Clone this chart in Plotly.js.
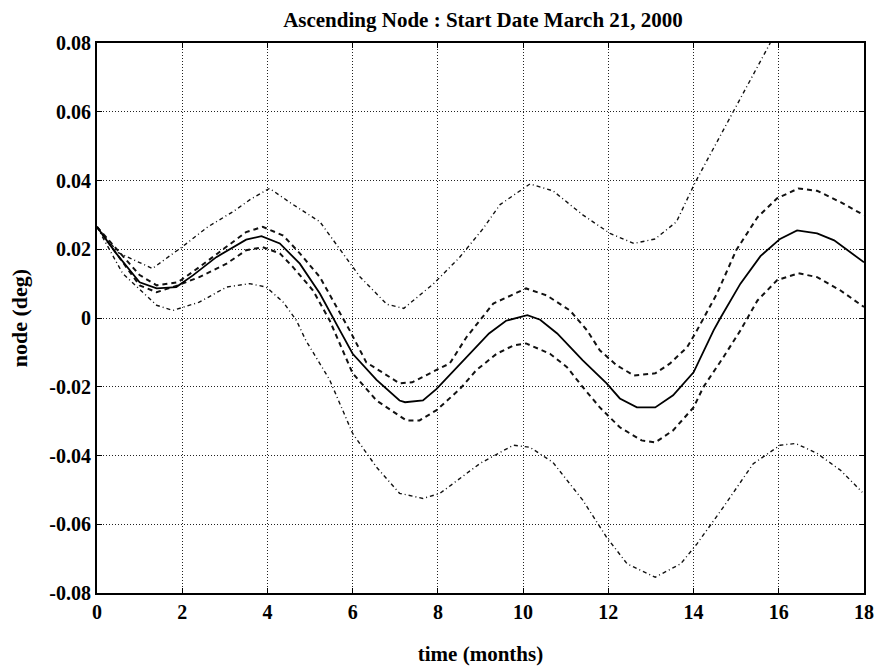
<!DOCTYPE html>
<html>
<head>
<meta charset="utf-8">
<script src="https://cdn.plot.ly/plotly-3.0.1.min.js"></script>
<style>html,body{margin:0;padding:0;background:#fff;}#chart{width:879px;height:672px;}</style>
</head>
<body>
<div id="chart"></div>
<script>
// Mean ascending node (solid)
const meanT = [0, 0.45, 1.0, 1.4, 1.86, 2.25, 2.8, 3.2, 3.5, 3.86, 4.29, 4.76, 5.23, 5.7, 6.0, 6.56, 7.1, 7.23, 7.65, 7.97, 8.67, 9.2, 9.6, 10.1, 10.4, 10.8, 11.4, 11.96, 12.27, 12.67, 13.1, 13.52, 14.0, 14.47, 14.63, 15.1, 15.57, 16.03, 16.43, 16.9, 17.3, 17.68, 18];
const meanV = [0.0265, 0.0188, 0.0104, 0.0086, 0.009, 0.0124, 0.0177, 0.0206, 0.0228, 0.0238, 0.0217, 0.0158, 0.0071, -0.0036, -0.0104, -0.018, -0.024, -0.0245, -0.024, -0.0206, -0.0114, -0.0045, -0.0008, 0.0008, -0.0005, -0.0045, -0.0123, -0.019, -0.0234, -0.026, -0.026, -0.0225, -0.0158, -0.0036, 0.0, 0.010, 0.018, 0.023, 0.0255, 0.0246, 0.0226, 0.0191, 0.0162];

// Mean + 1 sigma (dashed)
const up1T = [0, 0.5, 1.0, 1.4, 1.9, 2.4, 3.04, 3.5, 3.89, 4.37, 4.76, 5.23, 5.93, 6.32, 7.1, 7.4, 8.05, 8.28, 8.67, 9.3, 10.07, 10.55, 11.1, 11.5, 11.8, 12.2, 12.6, 13.1, 13.45, 13.85, 14.04, 14.55, 15.0, 15.5, 15.96, 16.46, 16.9, 17.45, 18];
const up1V = [0.0265, 0.0195, 0.0125, 0.0095, 0.0104, 0.0148, 0.0206, 0.025, 0.0265, 0.024, 0.0188, 0.0119, -0.0036, -0.0129, -0.019, -0.0187, -0.0146, -0.0132, -0.0056, 0.0042, 0.0086, 0.0066, 0.0022, -0.0036, -0.0094, -0.0138, -0.0167, -0.0161, -0.0132, -0.0085, -0.0045, 0.0071, 0.0197, 0.0293, 0.0348, 0.0377, 0.037, 0.0337, 0.0299];

// Mean - 1 sigma (dashed)
const lo1T = [0, 0.5, 1.0, 1.4, 1.9, 2.4, 3.04, 3.5, 3.89, 4.29, 4.6, 5.07, 5.46, 6.0, 6.56, 7.26, 7.57, 7.97, 8.52, 8.9, 9.38, 9.77, 10.07, 10.63, 11.03, 11.4, 11.8, 12.27, 12.78, 13.1, 13.52, 14.0, 14.23, 14.7, 15.1, 15.5, 15.96, 16.46, 16.9, 17.45, 18];
const lo1V = [0.0265, 0.018, 0.0095, 0.0075, 0.0095, 0.0119, 0.0158, 0.0197, 0.0206, 0.0188, 0.0148, 0.008, -0.0007, -0.0161, -0.024, -0.0298, -0.0298, -0.0268, -0.0206, -0.0152, -0.0104, -0.008, -0.0074, -0.0104, -0.0143, -0.0201, -0.026, -0.0318, -0.0356, -0.0362, -0.0327, -0.026, -0.0201, -0.0114, -0.0036, 0.0051, 0.011, 0.013, 0.0119, 0.008, 0.0032];

// Mean + 3 sigma (dash-dot)
const up3T = [0, 0.5, 1.3, 2.0, 2.6, 3.2, 3.6, 4.05, 4.6, 5.23, 6.17, 6.8, 7.2, 7.9, 8.5, 9.06, 9.46, 10.16, 10.7, 11.4, 12.04, 12.6, 13.1, 13.6, 14.04, 14.9, 15.75, 15.8];
const up3V = [0.0265, 0.019, 0.0144, 0.0207, 0.0265, 0.031, 0.0345, 0.0377, 0.033, 0.028, 0.012, 0.004, 0.0028, 0.010, 0.0175, 0.026, 0.033, 0.039, 0.037, 0.030, 0.0246, 0.0217, 0.023, 0.028, 0.0395, 0.0594, 0.079, 0.080];

// Mean - 3 sigma (dash-dot)
const lo3T = [0, 0.6, 1.4, 1.78, 2.4, 3.04, 3.58, 3.97, 4.37, 4.68, 4.9, 5.46, 6.0, 6.56, 7.1, 7.65, 8.05, 8.99, 9.77, 10.16, 10.7, 11.4, 11.96, 12.44, 13.1, 13.7, 14.08, 14.7, 15.4, 16.03, 16.4, 16.9, 17.45, 17.96];
const lo3V = [0.0265, 0.013, 0.0037, 0.0022, 0.0046, 0.009, 0.010, 0.009, 0.0046, -0.0007, -0.0065, -0.018, -0.0336, -0.0434, -0.051, -0.0525, -0.051, -0.0423, -0.037, -0.0376, -0.042, -0.053, -0.0638, -0.0715, -0.0754, -0.0715, -0.0657, -0.055, -0.0424, -0.037, -0.0365, -0.0394, -0.0443, -0.0507];

const xTicks = [0, 2, 4, 6, 8, 10, 12, 14, 16, 18];
const xTickText = ['0', '2', '4', '6', '8', '10', '12', '14', '16', '18'];
const yTicks = [-0.08, -0.06, -0.04, -0.02, 0, 0.02, 0.04, 0.06, 0.08];
const yTickText = ['-0.08', '-0.06', '-0.04', '-0.02', '0', '0.02', '0.04', '0.06', '0.08'];

const serif = 'Liberation Serif, Times New Roman, serif';

const traces = [
  {x: up3T, y: up3V, mode: 'lines', line: {color: '#111', width: 1.4, dash: '4px,3px,1px,3px'}, name: '+3σ'},
  {x: lo3T, y: lo3V, mode: 'lines', line: {color: '#111', width: 1.4, dash: '4px,3px,1px,3px'}, name: '-3σ'},
  {x: up1T, y: up1V, mode: 'lines', line: {color: '#111', width: 2, dash: '5px,4px'}, name: '+1σ'},
  {x: lo1T, y: lo1V, mode: 'lines', line: {color: '#111', width: 2, dash: '5px,4px'}, name: '-1σ'},
  {x: meanT, y: meanV, mode: 'lines', line: {color: '#000', width: 1.8}, name: 'mean'}
];

const axisCommon = {
  showline: true, linecolor: '#000', linewidth: 2, mirror: 'ticks',
  ticks: 'inside', ticklen: 5, tickcolor: '#000', tickwidth: 1,
  showgrid: true, gridcolor: '#222', gridwidth: 1, griddash: '1px,2px',
  zeroline: false,
  tickfont: {family: serif, size: 20, color: '#000', weight: 'bold'}
};

const layout = {
  width: 879, height: 672,
  margin: {l: 97, r: 15, t: 43, b: 79},
  paper_bgcolor: '#fff', plot_bgcolor: '#fff',
  showlegend: false,
  title: {text: 'Ascending Node : Start Date March 21, 2000', font: {family: serif, size: 21, color: '#000', weight: 'bold'}, x: 483 / 879, xanchor: 'center', xref: 'paper', y: 1 - 20 / 672, yanchor: 'middle'},
  xaxis: Object.assign({}, axisCommon, {
    range: [0, 18], tickvals: xTicks, ticktext: xTickText,
    title: {text: 'time (months)', font: {family: serif, size: 21, color: '#000', weight: 'bold'}, standoff: 24}
  }),
  yaxis: Object.assign({}, axisCommon, {
    range: [-0.08, 0.08], tickvals: yTicks, ticktext: yTickText,
    title: {text: 'node (deg)', font: {family: serif, size: 22, color: '#000', weight: 'bold'}, standoff: 16}
  })
};
layout.title.xref = 'container';

Plotly.newPlot('chart', traces, layout, {staticPlot: true, displayModeBar: false});
</script>
</body>
</html>
